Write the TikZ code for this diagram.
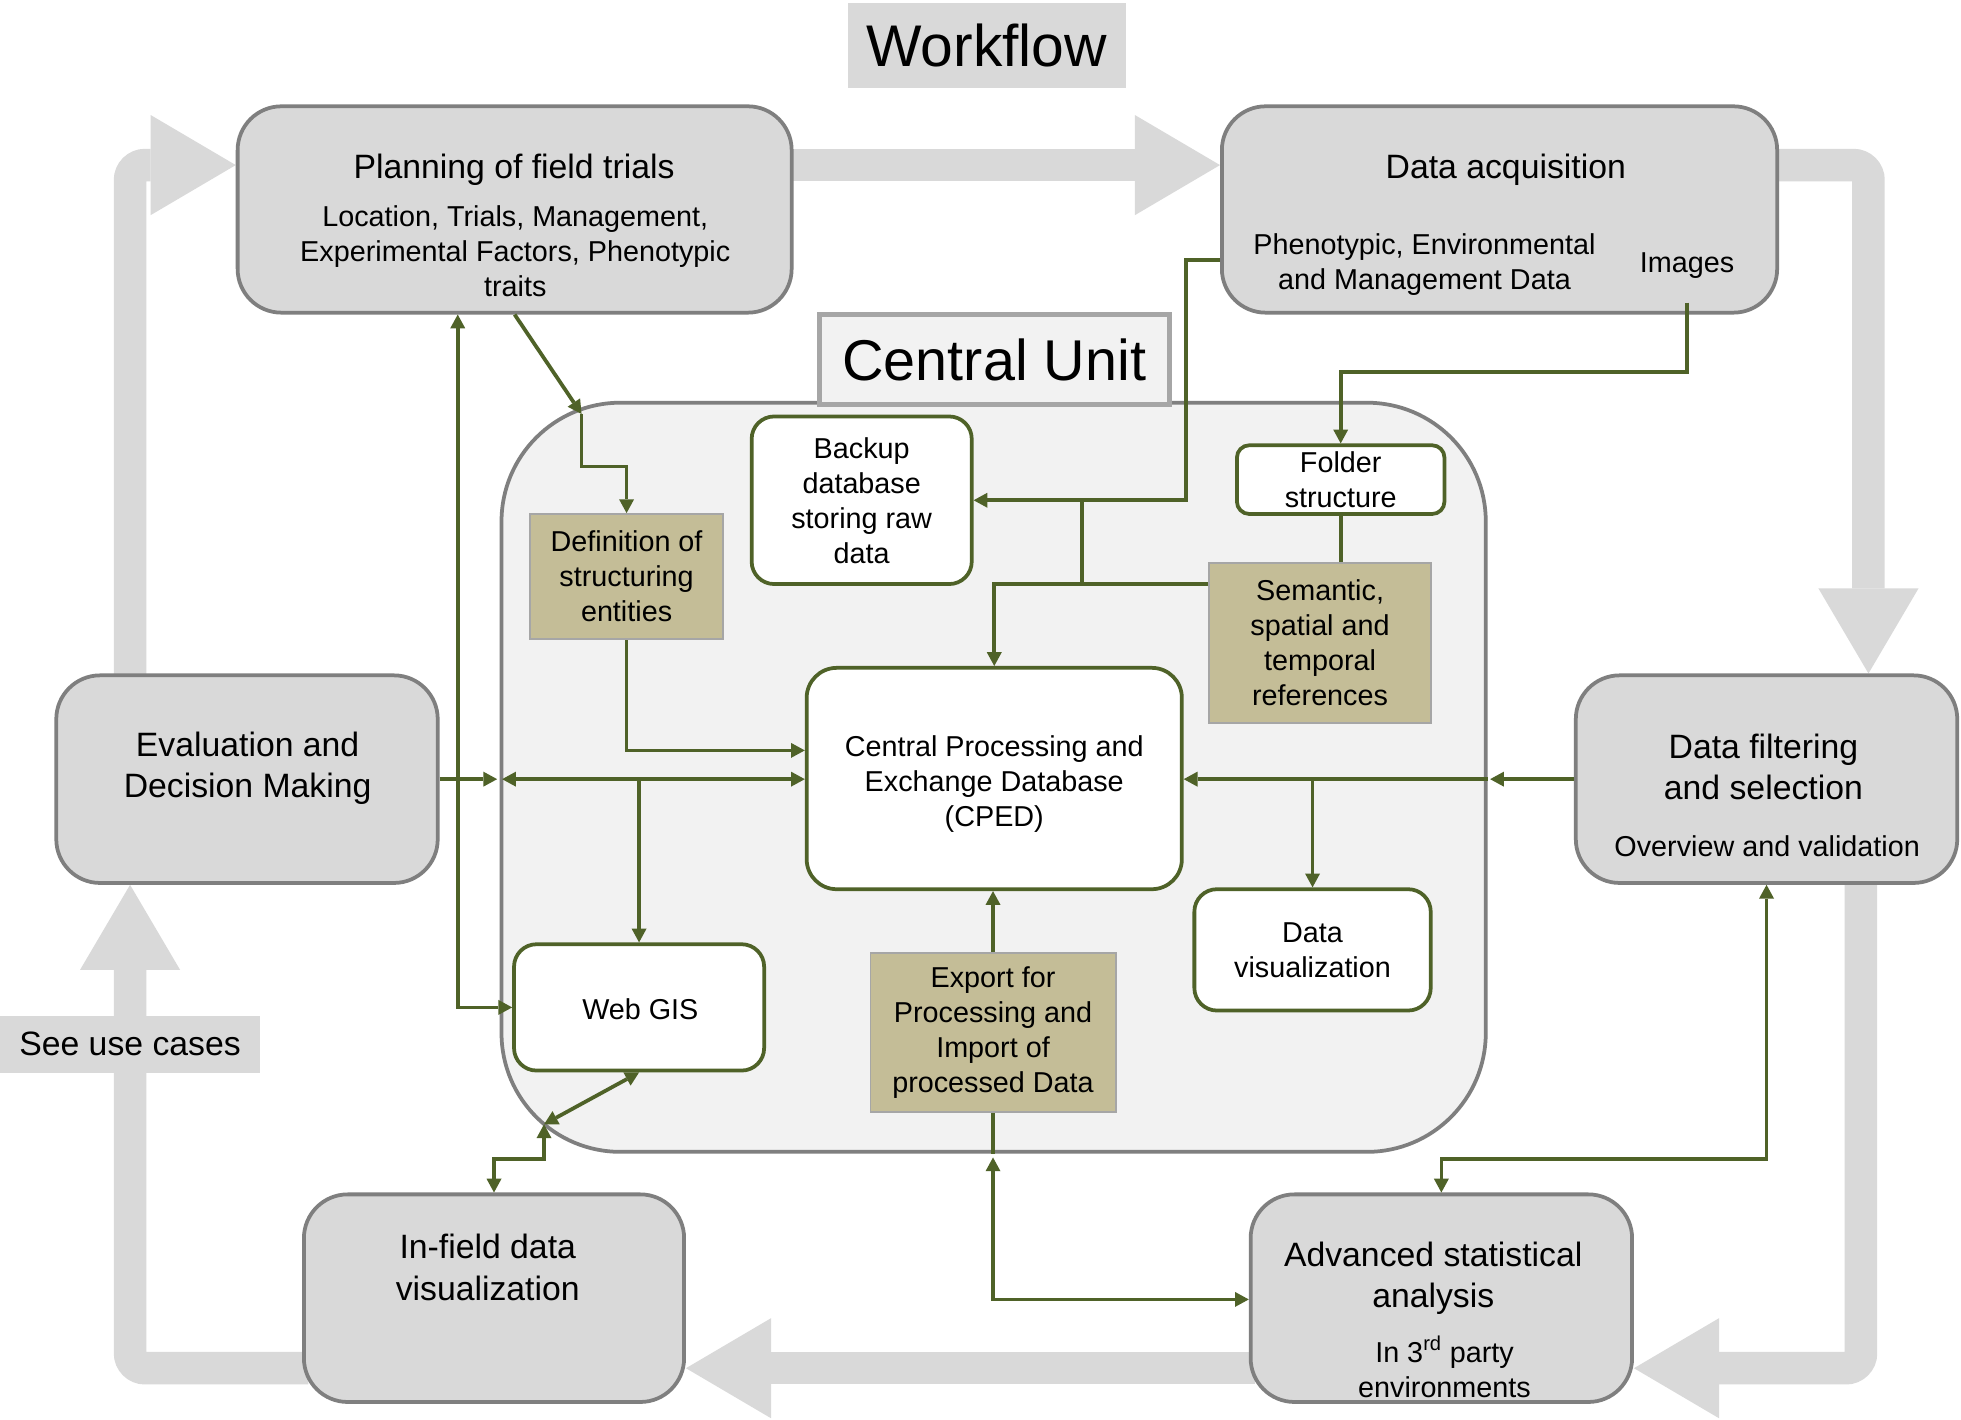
\documentclass[tikz,border=0pt]{standalone}
\usepackage{fontspec}
\setmainfont{Liberation Sans}
\usetikzlibrary{arrows.meta,backgrounds}
\definecolor{boxgray}{HTML}{D9D9D9}
\definecolor{edgegray}{HTML}{7F7F7F}
\definecolor{lightedge}{HTML}{A6A6A6}
\definecolor{cufill}{HTML}{F2F2F2}
\definecolor{mytan}{HTML}{C4BD97}
\definecolor{myolive}{HTML}{4F6228}
\begin{document}
\begin{tikzpicture}[x=1pt,y=1pt,
  flow/.style={draw=boxgray,line width=26pt,rounded corners=12pt,-{Triangle[length=68pt,width=80pt,line width=0pt]}},
  graybox/.style={draw=edgegray,fill=boxgray,line width=3pt,rounded corners=35pt,inner sep=0pt},
  whitebox/.style={draw=myolive,fill=white,line width=3pt,rounded corners=18pt,inner sep=0pt,align=center,font=\fontsize{23}{28}\selectfont},
  tanbox/.style={draw=lightedge,fill=mytan,line width=1.5pt,inner sep=0pt,align=center,font=\fontsize{23}{28}\selectfont},
  txs/.style={inner sep=0pt,align=center,font=\fontsize{23}{28}\selectfont},
  txb/.style={inner sep=0pt,align=center,font=\fontsize{27}{33}\selectfont},
  gline/.style={draw=myolive,line width=3pt},
  garrow/.style={gline,-{Triangle[length=11pt,width=12pt,line width=0pt]}},
  gboth/.style={gline,{Triangle[length=11pt,width=12pt,line width=0pt]}-{Triangle[length=11pt,width=12pt,line width=0pt]}}
]
\useasboundingbox (0,0) rectangle (1568,-1135);

% title
\node[fill=boxgray,minimum width=222pt,minimum height=68pt,inner sep=0pt,font=\fontsize{47}{50}\selectfont] (wf) at (789,-36) {Workflow};

% central unit
\node[draw=edgegray,fill=cufill,line width=3pt,rounded corners=95pt,minimum width=787pt,minimum height=599pt,inner sep=0pt] (cu) at (794.5,-621.5) {};
\node[draw=lightedge,fill=cufill,line width=4pt,minimum width=280pt,minimum height=72pt,inner sep=0pt,font=\fontsize{46}{50}\selectfont] (cul) at (795,-287.5) {Central Unit};

% gray workflow boxes
\node[graybox,minimum width=443pt,minimum height=165pt] (plan) at (411.5,-167.5) {};
\node[graybox,minimum width=444pt,minimum height=165pt] (acq) at (1199,-167.5) {};
\node[graybox,minimum width=305pt,minimum height=166pt] (eval) at (197.5,-623) {};
\node[graybox,minimum width=305pt,minimum height=166pt] (filt) at (1412.5,-623) {};
\node[graybox,minimum width=304pt,minimum height=166pt] (infield) at (395,-1038) {};
\node[graybox,minimum width=305pt,minimum height=166pt] (adv) at (1152.5,-1038) {};
\node[fill=boxgray,minimum width=208pt,minimum height=46pt,inner sep=0pt,font=\fontsize{27}{33}\selectfont] (use) at (104,-835) {See use cases};

% texts of gray boxes
\node[txb] (plant) at (411,-135.7) {Planning of field trials};
\node[txs] (plans) at (412,-200.8) {Location, Trials, Management,\\Experimental Factors, Phenotypic\\traits};
\node[txb] (acqt) at (1204,-135.7) {Data acquisition};
\node[txs] (acqs) at (1139,-211.3) {Phenotypic, Environmental\\and Management Data};
\node[txs] (img) at (1349,-212.3) {Images};
\node[txb] (evalt) at (198,-614.5) {Evaluation and\\Decision Making};
\node[txb] (filtt) at (1410,-613.4) {Data filtering\\and selection};
\node[txs] (filts) at (1413,-677) {Overview and validation};
\node[txb] (infieldt) at (390,-1013.5) {In-field data\\visualization};
\node[txb] (advt) at (1146,-1022) {Advanced statistical\\analysis};
\node[txs] (advs) at (1155,-1093) {In 3\textsuperscript{rd} party\\environments};

% inner boxes
\node[whitebox,minimum width=176pt,minimum height=134pt] (backup) at (689,-400) {Backup\\database\\storing raw\\data};
\node[whitebox,rounded corners=10pt,minimum width=166pt,minimum height=55pt] (folder) at (1072,-383.5) {Folder\\structure};
\node[tanbox,minimum width=154pt,minimum height=100pt] (defn) at (501,-461) {Definition of\\structuring\\entities};
\node[tanbox,minimum width=177pt,minimum height=128pt] (sem) at (1055.5,-514) {Semantic,\\spatial and\\temporal\\references};
\node[whitebox,rounded corners=24pt,minimum width=300pt,minimum height=177pt] (cped) at (795,-622.5) {};
\node[txs] (cpedt) at (795,-627) {Central Processing and\\Exchange Database\\(CPED)};
\node[whitebox,minimum width=189pt,minimum height=97pt] (dvis) at (1049.5,-759.5) {Data\\visualization};
\node[whitebox,minimum width=200pt,minimum height=101pt] (webgis) at (511,-805.5) {};
\node[txs] (webgist) at (512,-807) {Web GIS};
\node[tanbox,minimum width=196pt,minimum height=127pt] (export) at (794,-825.5) {Export for\\Processing and\\Import of\\processed Data};

% workflow arrows (behind)
\begin{scope}[on background layer]
\fill[white] (0,0) rectangle (1568,-1135);
\draw[flow] ([xshift=-5pt,yshift=35.5pt]plan.east) -- ([yshift=35.5pt]acq.west);
\draw[flow] ([xshift=-5pt,yshift=35.5pt]acq.east) -| ([xshift=81.5pt]filt.north);
\draw[flow] ([xshift=75.5pt,yshift=5pt]filt.south) |- ([yshift=-56pt]adv.east);
\draw[flow] ([xshift=5pt,yshift=-56pt]adv.west) -- ([yshift=-56pt]infield.east);
\draw[flow] ([xshift=5pt,yshift=-56pt]infield.west) -| ([xshift=-93.5pt]eval.south);
\draw[flow] ([xshift=-93.5pt,yshift=-5pt]eval.north) |- ([yshift=35.5pt]plan.west);
\end{scope}

% green connectors
\coordinate (j1) at (465,-331);
\draw[garrow] (plan.south) -- (j1);
\draw[garrow] (j1) -- (465,-373) -| (defn.north);
\draw[garrow] (defn.south) |- ([yshift=22.5pt]cped.west);
\coordinate (cuw) at (eval.east -| cu.west);
\draw[garrow] (eval.east) -- ([xshift=-2pt]cuw);
\draw[gboth] ([xshift=2pt]cuw) -- (eval.east -| cped.west);
\draw[garrow] (eval.east -| webgis.north) -- (webgis.north);
\draw[gboth] (webgis.west) -| ([xshift=-45.5pt]plan.south);
\coordinate (j5) at (435,-899);
\draw[gboth] (webgis.south) -- (j5);
\draw[gboth] (j5) |- ([yshift=27pt]infield.north) -- (infield.north);
\draw[garrow] ([yshift=-40.5pt]acq.west) -- ++(-27pt,0) |- (backup.east);
\draw[garrow] ([yshift=47pt]sem.west) -| (cped.north);
\coordinate (j7) at (865,-400);
\coordinate (j8) at (865,-467);
\draw[gline] (j7) -- (j8);
\coordinate (imgs) at (1349,-242);
\draw[garrow] (imgs) |- ([yshift=57pt]folder.north) -- (folder.north);
\draw[gline] (folder.south) -- (folder.south |- sem.north);
\coordinate (cue) at (filt.west -| cu.east);
\draw[garrow] (filt.west) -- ([xshift=2pt]cue);
\draw[garrow] (cue) -- (filt.west -| cped.east);
\draw[garrow] (filt.west -| dvis.north) -- (dvis.north);
\draw[garrow] (export.north) -- (export.north |- cped.south);
\coordinate (cus) at (export.south |- cu.south);
\draw[gline] (export.south) -- (cus);
\draw[gboth] ([yshift=-3pt]cus) |- ([yshift=-1pt]adv.west);
\draw[gboth] (filt.south) |- ([yshift=27pt]adv.north) -- (adv.north);
\end{tikzpicture}
\end{document}
